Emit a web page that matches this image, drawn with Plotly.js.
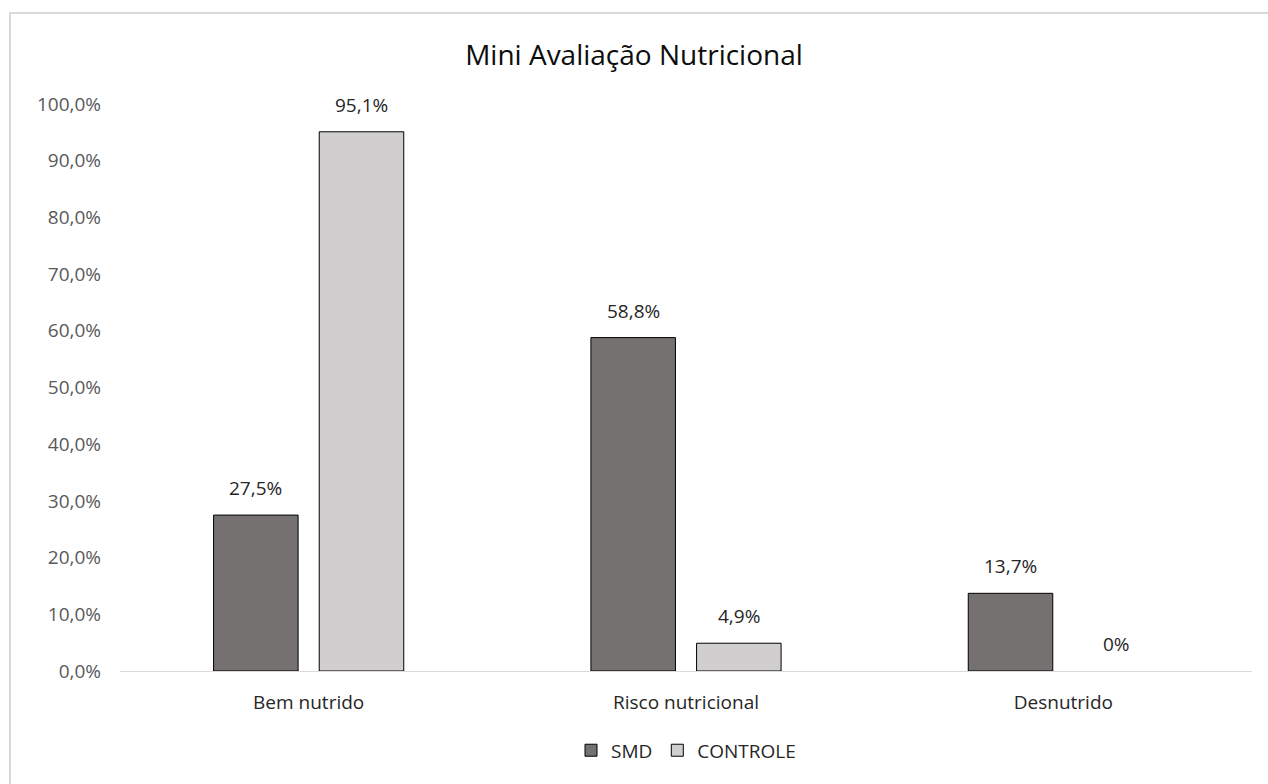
<!DOCTYPE html>
<html>
<head>
<meta charset="utf-8">
<script src="https://cdn.plot.ly/plotly-3.0.1.min.js"></script>
<style>
  html, body { margin: 0; padding: 0; background: #fff; overflow: hidden; }
  #chart { position: absolute; left: 0; top: 0; width: 1268px; height: 784px; }
  #frame { position: absolute; left: 9px; top: 12px; width: 1400px; height: 900px;
           border-left: 2px solid #d9d9d9; border-top: 2px solid #d9d9d9; pointer-events: none; }
</style>
</head>
<body>
<div id="chart"></div>
<div id="frame"></div>
<script>
// Mini Avaliação Nutricional: percentage of each group per nutritional category
const categories = ['Bem nutrido', 'Risco nutricional', 'Desnutrido'];
const smdValues = [27.5, 58.8, 13.7];
const controleValues = [95.1, 4.9, 0];
const yTicks = [0, 10, 20, 30, 40, 50, 60, 70, 80, 90, 100];

const FONT = 'Open Sans, Noto Sans, sans-serif';

function pctLabel(v) {
  return v === 0 ? '0%' : v.toFixed(1).replace('.', ',') + '%';
}

const labelFont = { family: FONT, size: 19, color: '#262626' };

const traces = [
  {
    type: 'bar', name: 'SMD', x: categories, y: smdValues,
    marker: { color: '#767171', line: { color: '#000000', width: smdValues.map(v => v === 0 ? 0 : 1) } },
    hoverinfo: 'skip'
  },
  {
    type: 'bar', name: 'CONTROLE', x: categories, y: controleValues,
    marker: { color: '#d0cece', line: { color: '#000000', width: controleValues.map(v => v === 0 ? 0 : 1) } },
    hoverinfo: 'skip'
  }
];

// value labels above each bar; horizontal offset = half of one bar slot in the group
const SLOT_SHIFT = 53;
const annotations = [];
[[smdValues, -SLOT_SHIFT], [controleValues, SLOT_SHIFT]].forEach(([vals, dx]) => {
  vals.forEach((v, i) => {
    annotations.push({
      x: categories[i], y: v, xref: 'x', yref: 'y',
      text: pctLabel(v), showarrow: false,
      xanchor: 'center', yanchor: 'bottom', xshift: dx, yshift: 12,
      font: labelFont
    });
  });
});

const layout = {
  width: 1268, height: 784,
  margin: { l: 120, r: 16, t: 104, b: 113 },
  paper_bgcolor: '#ffffff', plot_bgcolor: '#ffffff',
  barmode: 'group', bargap: 0.44, bargroupgap: 0.2,
  title: { text: 'Mini Avaliação Nutricional', x: 0.5, xanchor: 'center', y: 0.93, yanchor: 'middle',
           font: { family: FONT, size: 28, color: '#0d0d0d' } },
  xaxis: {
    showgrid: false, showline: true, linecolor: '#d9d9d9', linewidth: 1,
    ticks: '', tickfont: { family: FONT, size: 19, color: '#262626' },
    ticklabelstandoff: 14
  },
  yaxis: {
    range: [0, 100], tickvals: yTicks, ticktext: yTicks.map(v => v.toFixed(1).replace('.', ',') + '%'),
    showgrid: false, zeroline: false, showline: false, ticks: '',
    tickfont: { family: FONT, size: 19, color: '#595959' },
    ticklabelstandoff: 18
  },
  annotations: annotations,
  showlegend: true,
  legend: { orientation: 'h', x: 0.5, xanchor: 'center', y: -0.14, yanchor: 'middle',
            font: { family: FONT, size: 19, color: '#262626' }, itemwidth: 30 },
  hovermode: false
};

Plotly.newPlot('chart', traces, layout, { displayModeBar: false, staticPlot: true });
</script>
</body>
</html>
